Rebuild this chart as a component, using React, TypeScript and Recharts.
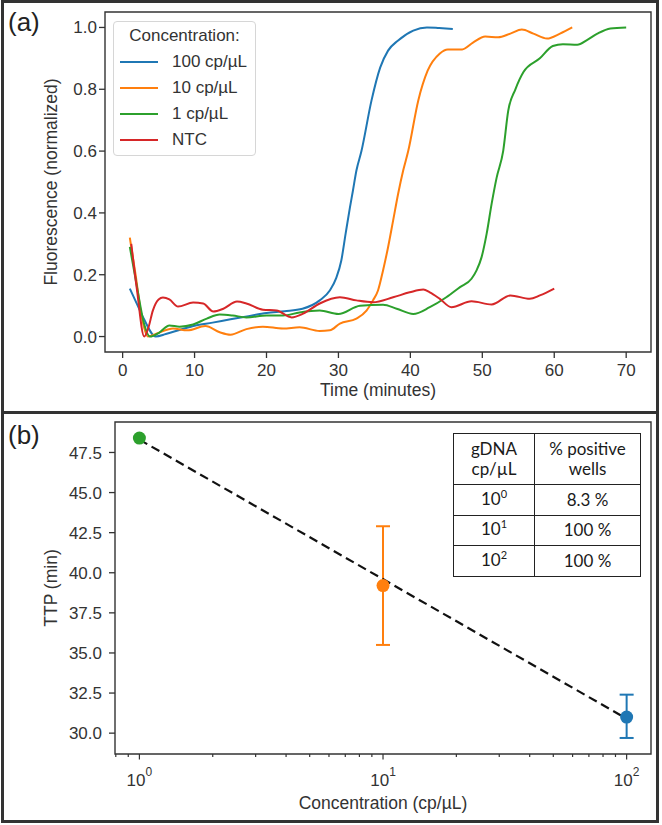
import React from "react";
import {
  LineChart,
  Line,
  XAxis,
  YAxis,
  Legend,
  ReferenceArea,
  ComposedChart,
  Scatter,
  ErrorBar,
} from "recharts";

const FONT = "'Liberation Sans', Arial, Helvetica, sans-serif";
const TABLE_FONT = "Lato, 'Open Sans', sans-serif";
const INK = "#333333";

const BLUE = "#1f77b4";
const ORANGE = "#ff7f0e";
const GREEN = "#2ca02c";
const RED = "#d62728";

// (a) amplification curves
const time100 = [1, 2, 3, 4.6, 6, 8, 10, 12.5, 15, 17.5, 20, 22.5, 25, 27.4, 28.8, 29.7, 30.4, 31.0, 31.6, 32.0, 32.5, 33.2, 34.6, 35.8, 36.9, 38.3, 40.4, 42.3, 44.0, 45.9];
const fluor100 = [0.155, 0.105, 0.055, 0.0, 0.008, 0.022, 0.035, 0.045, 0.056, 0.066, 0.076, 0.082, 0.09, 0.117, 0.149, 0.19, 0.246, 0.333, 0.418, 0.47, 0.537, 0.6, 0.764, 0.87, 0.925, 0.958, 0.99, 1.0, 0.998, 0.995];

const time10 = [1, 1.8, 2.6, 3.5, 5, 7, 9, 11.5, 13.5, 15, 17.2, 19.5, 22.3, 24.6, 27.4, 28.8, 30.2, 32.5, 33.9, 34.8, 35.5, 36.2, 36.9, 37.6, 38.3, 39.0, 39.7, 41.1, 42.4, 44.1, 45.2, 47.2, 48.7, 50.4, 52.2, 53.9, 55.5, 57.1, 59.0, 60.8, 62.5];
const fluor10 = [0.32, 0.2, 0.07, 0.0, 0.012, 0.026, 0.02, 0.034, 0.014, 0.006, 0.024, 0.032, 0.026, 0.03, 0.018, 0.02, 0.042, 0.058, 0.084, 0.117, 0.149, 0.214, 0.289, 0.375, 0.462, 0.537, 0.6, 0.764, 0.86, 0.916, 0.929, 0.929, 0.951, 0.971, 0.968, 0.98, 0.993, 0.98, 0.964, 0.98, 1.0];

const time1 = [1, 2, 3, 3.8, 5.1, 6.5, 7.9, 9.8, 11.7, 13.5, 15.3, 17.2, 20, 22.3, 24.6, 27.4, 30, 33, 36.2, 38.1, 40.4, 42.7, 45.0, 46.9, 48.5, 49.2, 49.9, 50.6, 51.3, 52.0, 52.9, 53.6, 54.6, 55.7, 58, 59.8, 61.2, 63.2, 64.6, 66, 67.8, 70];
const fluor1 = [0.29, 0.16, 0.04, 0.0, 0.013, 0.036, 0.032, 0.039, 0.058, 0.071, 0.068, 0.062, 0.068, 0.068, 0.078, 0.084, 0.073, 0.1, 0.103, 0.09, 0.073, 0.095, 0.127, 0.16, 0.187, 0.214, 0.257, 0.332, 0.43, 0.515, 0.6, 0.73, 0.8, 0.855, 0.9, 0.94, 0.946, 0.944, 0.96, 0.98, 0.997, 1.0];

const timeNtc = [1.2, 2, 3.0, 3.6, 4.2, 5.0, 5.6, 6.5, 7.7, 9.8, 11.2, 12.6, 14, 15.9, 17.2, 19.5, 21.4, 23.5, 25.1, 27.4, 30.2, 32.5, 34.8, 37.6, 39.9, 41.8, 42.7, 44.1, 45.7, 48.5, 51.3, 53.9, 56.6, 58.0, 60];
const fluorNtc = [0.3, 0.15, 0.0, 0.03, 0.084, 0.12, 0.126, 0.12, 0.097, 0.11, 0.107, 0.081, 0.09, 0.113, 0.107, 0.087, 0.084, 0.062, 0.074, 0.107, 0.127, 0.117, 0.111, 0.127, 0.143, 0.152, 0.143, 0.122, 0.095, 0.114, 0.104, 0.133, 0.122, 0.133, 0.155];

const curveNames = ["100 cp/µL", "10 cp/µL", "1 cp/µL", "NTC"];
const curveColors = [BLUE, ORANGE, GREEN, RED];

const timeTicks = [0, 10, 20, 30, 40, 50, 60, 70];
const fluorTicks = [0, 0.2, 0.4, 0.6, 0.8, 1.0];

// (b) time to positive vs concentration
const concentrations = [1, 10, 100];
const ttpMean = [48.4, 39.2, 31.0];
const ttpErrLow = [0, 3.7, 1.3];
const ttpErrHigh = [0, 3.7, 1.4];
const pointColors = [GREEN, ORANGE, BLUE];
const fitConc = [1, 100];
const fitTtp = [48.3, 30.9];
const concTicks = [0.8, 0.9, 1, 2, 3, 4, 5, 6, 7, 8, 9, 10, 20, 30, 40, 50, 60, 70, 80, 90, 100];
const ttpTicks = [30, 32.5, 35, 37.5, 40, 42.5, 45, 47.5];

const tableExponents = [0, 1, 2];
const tablePositive = ["8.3 %", "100 %", "100 %"];

const tickStyle = { fill: INK, fontSize: 17, fontFamily: FONT };
const tickLineStyle = { stroke: INK, strokeWidth: 1.3 };

const toRows = (ts: number[], vs: number[]) => ts.map((t, i) => ({ t, v: vs[i] }));

const curves = [
  toRows(time100, fluor100),
  toRows(time10, fluor10),
  toRows(time1, fluor1),
  toRows(timeNtc, fluorNtc),
].map((data, i) => ({ name: curveNames[i], color: curveColors[i], data }));

const xTitle = (text: string, baseline: number, fallbackY: number) => (props: any) => {
  const vb = props.viewBox || {};
  const x = vb.width != null ? vb.x + vb.width / 2 : 378;
  const y = (vb.y != null ? vb.y : fallbackY) + baseline;
  return (
    <text x={x} y={y} textAnchor="middle" fill={INK} fontSize={17.5} fontFamily={FONT}>
      {text}
    </text>
  );
};

const yTitle = (text: string, fallbackY: number) => (props: any) => {
  const vb = props.viewBox || {};
  const cy = vb.height != null ? vb.y + vb.height / 2 : fallbackY;
  const cx = 56.5;
  return (
    <text
      x={cx}
      y={cy}
      transform={`rotate(-90, ${cx}, ${cy})`}
      textAnchor="middle"
      fill={INK}
      fontSize={17.5}
      fontFamily={FONT}
    >
      {text}
    </text>
  );
};

function CurveLegend() {
  return (
    <div
      style={{
        position: "relative",
        width: 143,
        height: 135,
        boxSizing: "border-box",
        border: "1px solid #d6d6d6",
        borderRadius: 4,
        background: "rgba(255,255,255,0.9)",
        fontFamily: FONT,
        fontSize: 17,
        color: INK,
      }}
    >
      <div style={{ position: "absolute", top: 3, left: 0, right: 0, textAlign: "center", lineHeight: "22px" }}>
        Concentration:
      </div>
      {curves.map((c, i) => (
        <div key={c.name} style={{ position: "absolute", top: 29 + i * 26, left: 0, width: 143, height: 22 }}>
          <svg width={38} height={22} style={{ position: "absolute", left: 6, top: 0 }}>
            <line x1={0} x2={38} y1={11} y2={11} stroke={c.color} strokeWidth={2} />
          </svg>
          <span style={{ position: "absolute", left: 58, top: 0, lineHeight: "22px", whiteSpace: "nowrap" }}>
            {c.name}
          </span>
        </div>
      ))}
    </div>
  );
}

function PanelA() {
  return (
    <LineChart width={662} height={412} margin={{ top: 12, right: 11, bottom: 0, left: 0 }}>
      <ReferenceArea x1={-2.45} x2={73.45} y1={-0.05} y2={1.05} fill="none" stroke={INK} strokeWidth={1.4} />
      <XAxis
        type="number"
        dataKey="t"
        domain={[-2.45, 73.45]}
        allowDataOverflow
        ticks={timeTicks}
        interval={0}
        height={60}
        tickSize={6}
        tickMargin={6}
        axisLine={false}
        tickLine={tickLineStyle}
        tick={tickStyle}
        label={xTitle("Time (minutes)", 44, 352)}
      />
      <YAxis
        type="number"
        domain={[-0.05, 1.05]}
        allowDataOverflow
        ticks={fluorTicks}
        interval={0}
        width={105}
        tickSize={6}
        tickMargin={2}
        tickFormatter={(v: number) => v.toFixed(1)}
        axisLine={false}
        tickLine={tickLineStyle}
        tick={tickStyle}
        label={yTitle("Fluorescence (normalized)", 182)}
      />
      <Legend
        layout="horizontal"
        verticalAlign="middle"
        align="center"
        content={<CurveLegend />}
        wrapperStyle={{ left: 113, top: 21, width: 143, height: 135 }}
      />
      {curves.map((c) => (
        <Line
          key={c.name}
          data={c.data}
          dataKey="v"
          name={c.name}
          type="monotone"
          stroke={c.color}
          strokeWidth={2}
          dot={false}
          activeDot={false}
          isAnimationActive={false}
        />
      ))}
    </LineChart>
  );
}

function LogTick(props: any) {
  const { x, y, payload } = props;
  const v = payload.value;
  const exp = Math.log10(v);
  const major = Math.abs(exp - Math.round(exp)) < 1e-9;
  return (
    <g>
      <line x1={x} x2={x} y1={y} y2={y + (major ? 5.5 : 3)} stroke={INK} strokeWidth={1.2} />
      {major && (
        <text x={x} y={y + 32} textAnchor="middle" fill={INK} fontSize={17} fontFamily={FONT}>
          <tspan>10</tspan>
          <tspan dy={-10} fontSize={12}>
            {Math.round(exp)}
          </tspan>
        </text>
      )}
    </g>
  );
}

const dotShape = (color: string) => (props: any) => (
  <circle cx={props.cx} cy={props.cy} r={6.5} fill={color} />
);

function PanelB() {
  const points = concentrations.map((x, i) => ({ x, y: ttpMean[i], err: [ttpErrLow[i], ttpErrHigh[i]] }));
  const fit = fitConc.map((x, i) => ({ x, y: fitTtp[i] }));
  return (
    <ComposedChart width={662} height={413} margin={{ top: 10, right: 11, bottom: 0, left: 0 }}>
      <ReferenceArea x1={0.794} x2={125.9} y1={28.7} y2={49.4} fill="none" stroke={INK} strokeWidth={1.4} />
      <XAxis
        type="number"
        dataKey="x"
        scale="log"
        domain={[0.794, 125.9]}
        allowDataOverflow
        ticks={concTicks}
        interval={0}
        height={71}
        tickSize={0}
        tickMargin={0}
        axisLine={false}
        tickLine={false}
        tick={<LogTick />}
        label={xTitle("Concentration (cp/µL)", 55, 342)}
      />
      <YAxis
        type="number"
        dataKey="y"
        domain={[28.7, 49.4]}
        allowDataOverflow
        ticks={ttpTicks}
        interval={0}
        width={115}
        tickSize={6}
        tickMargin={7}
        tickFormatter={(v: number) => v.toFixed(1)}
        axisLine={false}
        tickLine={tickLineStyle}
        tick={tickStyle}
        label={yTitle("TTP (min)", 176)}
      />
      {points.map((p, i) => (
        <Scatter
          key={p.x}
          data={[p]}
          fill={pointColors[i]}
          shape={dotShape(pointColors[i])}
          isAnimationActive={false}
        >
          {p.err[1] > 0 && (
            <ErrorBar dataKey="err" direction="y" width={7} stroke={pointColors[i]} strokeWidth={2} />
          )}
        </Scatter>
      ))}
      <Line
        data={fit}
        dataKey="y"
        type="linear"
        stroke="#111111"
        strokeWidth={2.2}
        strokeDasharray="9 5"
        dot={false}
        activeDot={false}
        isAnimationActive={false}
      />
    </ComposedChart>
  );
}

const cell: React.CSSProperties = {
  border: "1.5px solid #222",
  padding: 0,
  textAlign: "center",
  verticalAlign: "middle",
  lineHeight: "20.5px",
};

function PositiveTable() {
  return (
    <table
      style={{
        position: "absolute",
        left: 453,
        top: 433,
        width: 187,
        height: 143,
        borderCollapse: "collapse",
        tableLayout: "fixed",
        fontFamily: TABLE_FONT,
        fontSize: 17,
        color: "#1a1a1a",
        background: "#fff",
      }}
    >
      <colgroup>
        <col style={{ width: 81 }} />
        <col style={{ width: 106 }} />
      </colgroup>
      <tbody>
        <tr style={{ height: 51 }}>
          <td style={cell}>
            gDNA
            <br />
            cp/µL
          </td>
          <td style={cell}>
            % positive
            <br />
            wells
          </td>
        </tr>
        {tableExponents.map((e, i) => (
          <tr key={e} style={{ height: i === 1 ? 30 : 31 }}>
            <td style={cell}>
              10
              <span style={{ fontSize: 11, position: "relative", top: -7 }}>{e}</span>
            </td>
            <td style={cell}>{tablePositive[i]}</td>
          </tr>
        ))}
      </tbody>
    </table>
  );
}

export default function App() {
  return (
    <div style={{ position: "absolute", left: 0, top: 0, width: 662, height: 825, background: "#fff", overflow: "hidden" }}>
      <div style={{ position: "absolute", left: 0, top: 0 }}>
        <PanelA />
      </div>
      <div style={{ position: "absolute", left: 0, top: 412 }}>
        <PanelB />
      </div>
      <PositiveTable />
      <div style={{ position: "absolute", left: 8, top: 9, fontFamily: FONT, fontSize: 26, lineHeight: "26px", color: "#222" }}>
        (a)
      </div>
      <div style={{ position: "absolute", left: 8, top: 422, fontFamily: FONT, fontSize: 26, lineHeight: "26px", color: "#222" }}>
        (b)
      </div>
      <div
        style={{
          position: "absolute",
          left: 1,
          top: 0,
          width: 658,
          height: 823,
          border: "3px solid #333",
          boxSizing: "border-box",
          pointerEvents: "none",
        }}
      />
      <div style={{ position: "absolute", left: 1, top: 411, width: 658, height: 3, background: "#333" }} />
    </div>
  );
}
